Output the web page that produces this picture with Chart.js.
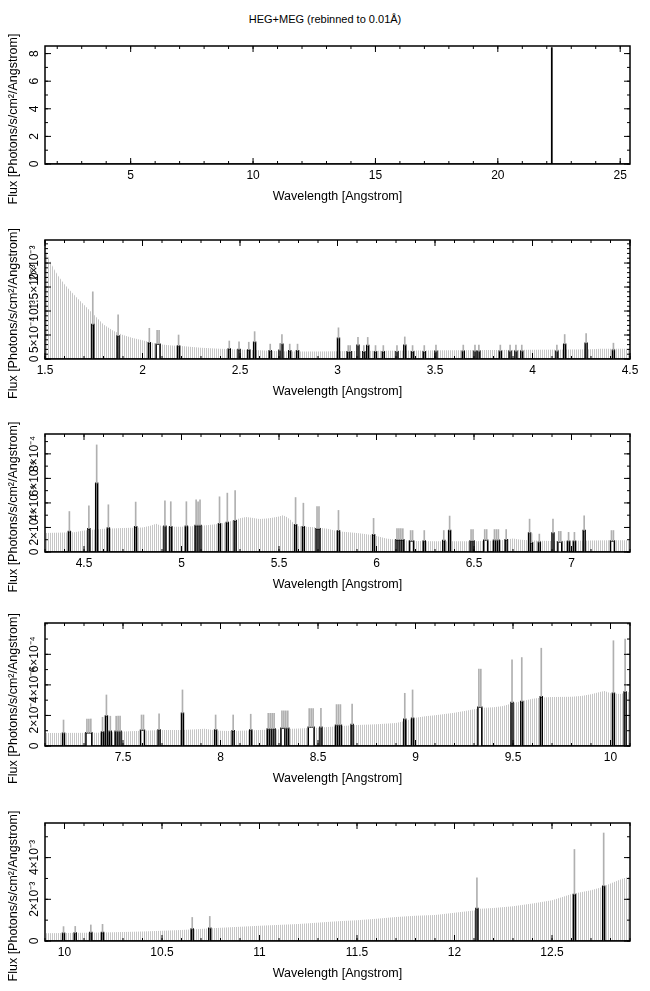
<!DOCTYPE html>
<html>
<head>
<meta charset="utf-8">
<script src="https://cdn.jsdelivr.net/npm/chart.js@4.4.1/dist/chart.umd.min.js"></script>
<style>
  body { margin: 0; background: #fff; }
  #page { position: relative; width: 650px; height: 991px; overflow: hidden; background: #fff; }
  #title { position: absolute; left: 0; top: 11px; width: 650px; text-align: center;
           font: 11px "Liberation Sans", Arial, sans-serif; line-height: 16px; color: #000; }
  canvas { position: absolute; left: 0; }
</style>
</head>
<body>
<div id="page">
  <div id="title">HEG+MEG (rebinned to 0.01Å)</div>
  <canvas id="c1"></canvas>
  <canvas id="c2"></canvas>
  <canvas id="c3"></canvas>
  <canvas id="c4"></canvas>
  <canvas id="c5"></canvas>
</div>
<script>
var binWidth = 0.01;   // Angstrom

// ---- panel 1: whole band, flux in Photons/s/cm2/A
var p1Range = [1.5, 25.4];
var p1YMax = 8.55;
var p1LineWave = [22.20];
var p1LineBins = [1];
var p1LineFlux = [8.4];
var p1XTicks = [5, 10, 15, 20, 25];
var p1XLabels = ['5', '10', '15', '20', '25'];
var p1YTicks = [0, 2, 4, 6, 8];
var p1YLabels = ['0', '2', '4', '6', '8'];

// ---- panel 2: 1.5-4.5 A, flux in units of 1e-4
var p2Range = [1.5, 4.5];
var p2YMax = 24.8;
var p2EnvWave = [1.50, 1.51, 1.52, 1.53, 1.55, 1.57, 1.60, 1.63, 1.66, 1.70, 1.75, 1.80, 1.85, 1.90, 1.95, 2.00, 2.05, 2.10, 2.15, 2.20, 2.30, 2.40, 2.50, 2.60, 2.70, 2.80, 2.90, 3.00, 3.20, 3.40, 3.60, 3.80, 4.00, 4.20, 4.30, 4.35, 4.50];
var p2EnvFlux = [23.0, 22.0, 21.0, 20.0, 18.5, 17.2, 15.6, 14.2, 12.9, 11.3, 9.3, 7.2, 5.9, 5.0, 4.4, 3.9, 3.4, 3.0, 2.8, 2.7, 2.35, 2.15, 2.0, 1.8, 1.6, 1.55, 1.55, 1.6, 1.7, 1.75, 1.8, 1.9, 1.95, 2.0, 2.05, 2.15, 2.15];
var p2LineWave = [1.74, 1.87, 2.03, 2.07, 2.18, 2.44, 2.49, 2.54, 2.57, 2.65, 2.70, 2.71, 2.75, 2.79, 3.00, 3.05, 3.06, 3.10, 3.13, 3.15, 3.19, 3.23, 3.30, 3.34, 3.38, 3.44, 3.50, 3.64, 3.70, 3.72, 3.83, 3.88, 3.91, 3.94, 4.12, 4.16, 4.27, 4.41];
var p2LineBins = [1, 1, 1, 2, 1, 1, 1, 1, 1, 1, 1, 1, 1, 1, 1, 1, 1, 1, 1, 1, 1, 1, 1, 1, 1, 1, 1, 1, 1, 1, 1, 1, 1, 1, 1, 1, 1, 1];
var p2LineFlux = [7.2, 4.8, 3.4, 3.1, 2.7, 2.1, 2.0, 1.9, 3.5, 1.7, 1.8, 3.1, 1.7, 1.7, 4.3, 1.5, 1.5, 2.85, 1.5, 2.8, 1.5, 1.5, 1.5, 2.85, 1.5, 1.5, 1.6, 1.6, 1.6, 1.6, 1.6, 1.6, 1.6, 1.6, 1.6, 3.1, 3.3, 1.8];
var p2LineErr = [14.0, 9.2, 6.4, 6.0, 5.0, 3.75, 3.6, 3.5, 5.7, 3.1, 3.2, 5.1, 3.1, 3.1, 6.5, 2.8, 2.8, 4.5, 2.8, 4.5, 2.8, 2.8, 2.8, 4.6, 2.8, 2.8, 2.9, 2.9, 2.9, 2.9, 2.9, 2.9, 2.9, 2.9, 2.9, 5.1, 5.3, 3.3];
var p2XTicks = [1.5, 2, 2.5, 3, 3.5, 4, 4.5];
var p2XLabels = ['1.5', '2', '2.5', '3', '3.5', '4', '4.5'];
var p2YTicks = [0, 5, 10, 15, 20];
var p2YLabels = ['0', '5×10⁻⁴', '10⁻³', '1.5×10⁻³', '2×10⁻³'];

// ---- panel 3: 4.3-7.3 A, flux in units of 1e-4
var p3Range = [4.3, 7.3];
var p3YMax = 9.62;
var p3EnvWave = [4.30, 4.45, 4.50, 4.60, 4.70, 4.80, 4.84, 4.87, 4.90, 4.95, 5.00, 5.10, 5.20, 5.25, 5.30, 5.33, 5.36, 5.40, 5.45, 5.50, 5.52, 5.54, 5.56, 5.58, 5.60, 5.70, 5.75, 5.80, 5.90, 5.95, 6.00, 6.05, 6.10, 6.20, 6.30, 6.50, 6.60, 6.66, 6.70, 6.74, 6.80, 6.90, 7.00, 7.20, 7.30];
var p3EnvFlux = [1.55, 1.6, 1.75, 1.9, 1.95, 2.0, 2.15, 2.3, 2.1, 2.05, 2.05, 2.15, 2.3, 2.5, 2.75, 2.85, 2.8, 2.7, 2.75, 2.9, 3.0, 2.85, 2.6, 2.25, 2.1, 2.0, 1.9, 1.7, 1.55, 1.45, 1.3, 1.1, 1.0, 0.9, 0.87, 0.88, 0.92, 1.0, 1.1, 1.0, 0.93, 0.9, 0.92, 0.95, 0.95];
var p3LineWave = [4.42, 4.52, 4.56, 4.62, 4.76, 4.91, 4.94, 5.02, 5.07, 5.08, 5.09, 5.19, 5.23, 5.27, 5.58, 5.62, 5.69, 5.70, 5.80, 5.98, 6.10, 6.11, 6.12, 6.13, 6.17, 6.24, 6.34, 6.37, 6.48, 6.49, 6.55, 6.60, 6.61, 6.62, 6.66, 6.78, 6.79, 6.83, 6.90, 6.93, 6.98, 7.01, 7.06, 7.20];
var p3LineBins = [1, 1, 1, 1, 1, 1, 1, 1, 1, 1, 1, 1, 1, 1, 1, 1, 1, 1, 1, 1, 1, 1, 1, 1, 2, 1, 1, 1, 1, 1, 2, 1, 1, 1, 1, 1, 1, 1, 1, 2, 1, 1, 1, 2];
var p3LineFlux = [1.68, 1.9, 5.6, 1.95, 2.06, 2.09, 2.06, 2.09, 2.17, 2.17, 2.17, 2.3, 2.41, 2.55, 2.22, 2.06, 1.9, 1.9, 1.73, 1.41, 1.0, 1.0, 1.0, 1.0, 0.9, 0.9, 0.93, 1.76, 0.9, 0.9, 0.95, 0.95, 0.95, 0.95, 1.0, 1.54, 0.76, 0.79, 1.54, 0.81, 0.87, 0.87, 1.76, 0.9];
var p3LineErr = [3.3, 3.77, 8.73, 3.85, 4.07, 4.17, 4.1, 4.1, 4.25, 4.1, 4.25, 4.5, 4.8, 5.0, 4.44, 3.98, 3.7, 3.7, 3.39, 2.74, 1.9, 1.9, 1.9, 1.9, 1.75, 1.75, 1.75, 2.93, 1.83, 1.83, 1.83, 1.83, 1.83, 1.83, 1.83, 2.68, 1.5, 1.46, 2.68, 1.68, 1.6, 1.6, 2.95, 1.75];
var p3XTicks = [4.5, 5, 5.5, 6, 6.5, 7];
var p3XLabels = ['4.5', '5', '5.5', '6', '6.5', '7'];
var p3YTicks = [0, 2, 4, 6, 8];
var p3YLabels = ['0', '2×10⁻⁴', '4×10⁻⁴', '6×10⁻⁴', '8×10⁻⁴'];

// ---- panel 4: 7.1-10.1 A, flux in units of 1e-4
var p4Range = [7.1, 10.1];
var p4YMax = 8.05;
var p4EnvWave = [7.10, 7.40, 7.50, 7.60, 7.70, 7.80, 7.88, 7.92, 7.96, 8.00, 8.05, 8.10, 8.20, 8.30, 8.40, 8.50, 8.60, 8.70, 8.80, 8.90, 8.95, 9.00, 9.05, 9.10, 9.20, 9.30, 9.35, 9.40, 9.45, 9.50, 9.55, 9.60, 9.65, 9.70, 9.80, 9.85, 9.90, 9.95, 9.97, 10.00, 10.05, 10.10];
var p4EnvFlux = [0.85, 0.87, 0.95, 1.0, 1.05, 1.05, 1.1, 1.13, 1.05, 1.0, 0.98, 1.0, 1.05, 1.1, 1.15, 1.2, 1.3, 1.37, 1.42, 1.5, 1.65, 1.85, 1.95, 2.02, 2.18, 2.4, 2.5, 2.53, 2.62, 2.82, 2.95, 3.1, 3.18, 3.2, 3.22, 3.28, 3.38, 3.55, 3.6, 3.45, 3.4, 3.55];
var p4LineWave = [7.19, 7.31, 7.39, 7.41, 7.43, 7.46, 7.47, 7.48, 7.59, 7.68, 7.80, 7.97, 8.06, 8.15, 8.24, 8.25, 8.26, 8.27, 8.31, 8.33, 8.34, 8.45, 8.51, 8.59, 8.60, 8.61, 8.67, 8.94, 8.98, 9.32, 9.49, 9.54, 9.64, 10.01, 10.07];
var p4LineBins = [1, 3, 1, 1, 1, 1, 1, 1, 2, 1, 1, 1, 1, 1, 1, 1, 1, 1, 2, 1, 1, 3, 1, 1, 1, 1, 1, 1, 1, 2, 1, 1, 1, 1, 1];
var p4LineFlux = [0.83, 0.87, 0.92, 1.97, 0.96, 0.96, 0.96, 0.96, 1.03, 1.05, 2.14, 1.05, 1.0, 1.05, 1.11, 1.11, 1.11, 1.11, 1.16, 1.16, 1.16, 1.22, 1.22, 1.36, 1.36, 1.36, 1.4, 1.75, 1.81, 2.54, 2.84, 2.91, 3.23, 3.45, 3.54];
var p4LineErr = [1.7, 1.77, 1.88, 3.34, 1.95, 1.95, 1.95, 1.95, 2.03, 2.1, 3.67, 2.03, 2.03, 2.08, 2.14, 2.14, 2.14, 2.14, 2.3, 2.3, 2.3, 2.45, 2.47, 2.71, 2.71, 2.71, 2.75, 3.45, 3.67, 5.03, 5.64, 5.79, 6.4, 6.89, 7.0];
var p4XTicks = [7.5, 8, 8.5, 9, 9.5, 10];
var p4XLabels = ['7.5', '8', '8.5', '9', '9.5', '10'];
var p4YTicks = [0, 2, 4, 6];
var p4YLabels = ['0', '2×10⁻⁴', '4×10⁻⁴', '6×10⁻⁴'];

// ---- panel 5: 9.9-12.9 A, flux in units of 1e-3
var p5Range = [9.9, 12.9];
var p5YMax = 5.66;
var p5EnvWave = [9.90, 10.00, 10.20, 10.40, 10.60, 10.80, 11.00, 11.20, 11.40, 11.50, 11.60, 11.70, 11.80, 11.90, 12.00, 12.11, 12.13, 12.20, 12.30, 12.40, 12.50, 12.55, 12.60, 12.70, 12.75, 12.80, 12.85, 12.88, 12.90];
var p5EnvFlux = [0.37, 0.38, 0.41, 0.45, 0.53, 0.63, 0.73, 0.81, 0.95, 1.0, 1.07, 1.15, 1.21, 1.25, 1.36, 1.47, 1.55, 1.58, 1.67, 1.8, 1.96, 2.1, 2.25, 2.44, 2.57, 2.76, 2.95, 3.05, 3.08];
var p5LineWave = [9.99, 10.05, 10.13, 10.19, 10.65, 10.74, 12.11, 12.61, 12.76];
var p5LineBins = [1, 1, 1, 1, 1, 1, 1, 1, 1];
var p5LineFlux = [0.37, 0.38, 0.41, 0.41, 0.57, 0.61, 1.56, 2.23, 2.63];
var p5LineErr = [0.69, 0.70, 0.77, 0.80, 1.13, 1.18, 3.03, 4.39, 5.18];
var p5XTicks = [10, 10.5, 11, 11.5, 12, 12.5];
var p5XLabels = ['10', '10.5', '11', '11.5', '12', '12.5'];
var p5YTicks = [0, 2, 4];
var p5YLabels = ['0', '2×10⁻³', '4×10⁻³'];

var FONT = '"Liberation Sans", Arial, Helvetica, sans-serif';

function minorValues(lo, hi, step) {
  var out = [];
  for (var k = Math.ceil(lo / step - 1e-6); k * step <= hi + 1e-9; k++) {
    out.push(Math.round(k * step * 1000) / 1000);
  }
  return out;
}

function edge(w, n) {
  return Math.round((w + n * binWidth) * 1000) / 1000;
}

// histogram outline: a box per entry, each point is a low edge held until the next point
function histogram(range, waves, bins, flux) {
  var pts = [{x: range[0], y: 0}];
  waves.forEach(function(w, i) {
    pts.push({x: w, y: flux[i]});
    pts.push({x: edge(w, bins[i]), y: 0});
  });
  pts.push({x: range[1], y: 0});
  return pts;
}

// one grey error line per bin, from the flux up to the upper error
function errorBars(waves, bins, flux, err) {
  var out = [];
  waves.forEach(function(w, i) {
    for (var k = 0; k < bins[i]; k++) {
      out.push({x: edge(w, k + 0.5), y: [flux[i], err[i]]});
    }
  });
  return out;
}

function framePlugin(cfg) {
  return {
    id: 'frame',
    afterDraw: function(chart) {
      var ctx = chart.ctx, a = chart.chartArea;
      var x = chart.scales.x, y = chart.scales.y;
      ctx.save();
      ctx.strokeStyle = '#000';
      ctx.lineWidth = 1;
      ctx.beginPath();
      function xt(v, len) {
        var px = x.getPixelForValue(v);
        ctx.moveTo(px, a.bottom); ctx.lineTo(px, a.bottom - len);
        ctx.moveTo(px, a.top); ctx.lineTo(px, a.top + len);
      }
      function yt(v, len) {
        var py = y.getPixelForValue(v);
        ctx.moveTo(a.left, py); ctx.lineTo(a.left + len, py);
        ctx.moveTo(a.right, py); ctx.lineTo(a.right - len, py);
      }
      minorValues(cfg.range[0], cfg.range[1], cfg.xMinor).forEach(function(v) { xt(v, 3); });
      cfg.xTicks.forEach(function(v) { xt(v, 6); });
      minorValues(0, cfg.yMax, cfg.yMinor).forEach(function(v) { yt(v, 3); });
      cfg.yTicks.forEach(function(v) { yt(v, 6); });
      ctx.stroke();

      ctx.lineWidth = 1.5;
      ctx.strokeRect(a.left, a.top, a.right - a.left, a.bottom - a.top);

      ctx.fillStyle = '#000';
      ctx.font = '12px ' + FONT;
      ctx.textAlign = 'center';
      ctx.textBaseline = 'middle';
      cfg.yTicks.forEach(function(v, i) {
        ctx.save();
        ctx.translate(35, y.getPixelForValue(v));
        ctx.rotate(-Math.PI / 2);
        ctx.fillText(cfg.yLabels[i], 0, 0);
        ctx.restore();
      });
      ctx.font = '12.5px ' + FONT;
      ctx.translate(14, (a.top + a.bottom) / 2 + 14);
      ctx.rotate(-Math.PI / 2);
      ctx.fillText('Flux [Photons/s/cm²/Angstrom]', 0, 0);
      ctx.restore();
    }
  };
}

function makePanel(id, cfg) {
  var canvas = document.getElementById(id);
  var h = cfg.box[1] - cfg.box[0];
  canvas.width = 650;
  canvas.height = h + 80;
  canvas.style.top = (cfg.box[0] - 30) + 'px';
  var ctx = canvas.getContext('2d');

  // light grey vertical stripes, one per 0.01 A bin
  var tile = document.createElement('canvas');
  tile.width = 2; tile.height = 1;
  var tctx = tile.getContext('2d');
  tctx.fillStyle = '#c6c6c6';
  tctx.fillRect(0, 0, 1, 1);
  var stripes = ctx.createPattern(tile, 'repeat');

  var datasets = [];
  if (cfg.envWave) {
    datasets.push({
      type: 'line',
      data: cfg.envWave.map(function(w, i) { return {x: w, y: cfg.envFlux[i]}; }),
      fill: 'origin',
      backgroundColor: stripes,
      borderColor: 'rgba(0,0,0,0)',
      borderWidth: 0,
      pointRadius: 0,
      tension: 0,
      order: 3
    });
  }
  datasets.push({
    type: 'line',
    data: histogram(cfg.range, cfg.lineWave, cfg.lineBins, cfg.lineFlux),
    stepped: true,
    fill: 'origin',
    backgroundColor: '#fff',
    borderColor: '#000',
    borderWidth: 1.5,
    pointRadius: 0,
    order: 2
  });
  if (cfg.lineErr) {
    datasets.push({
      type: 'bar',
      data: errorBars(cfg.lineWave, cfg.lineBins, cfg.lineFlux, cfg.lineErr),
      backgroundColor: '#b0b0b0',
      barThickness: 1,
      grouped: false,
      order: 1
    });
  }

  return new Chart(ctx, {
    type: 'line',
    data: {datasets: datasets},
    options: {
      responsive: false,
      animation: false,
      events: [],
      layout: {padding: {top: 30, right: 20, left: 0, bottom: 10}},
      plugins: {legend: {display: false}, tooltip: {enabled: false}},
      scales: {
        x: {
          type: 'linear',
          min: cfg.range[0],
          max: cfg.range[1],
          offset: false,
          grid: {display: false, drawTicks: false, offset: false},
          border: {display: false},
          ticks: {
            color: '#000',
            font: {family: FONT, size: 12},
            padding: 4,
            maxRotation: 0,
            autoSkip: false,
            callback: function(v, i) { return cfg.xLabels[i]; }
          },
          afterBuildTicks: function(s) {
            s.ticks = cfg.xTicks.map(function(v) { return {value: v}; });
          },
          title: {
            display: true,
            text: 'Wavelength [Angstrom]',
            color: '#000',
            font: {family: FONT, size: 12.5},
            padding: {top: 0, bottom: 0}
          },
          afterFit: function(s) { s.height = 40; }
        },
        y: {
          type: 'linear',
          min: 0,
          max: cfg.yMax,
          grid: {display: false, drawTicks: false},
          border: {display: false},
          ticks: {display: false},
          afterFit: function(s) { s.width = 45; }
        }
      }
    },
    plugins: [framePlugin(cfg)]
  });
}

makePanel('c1', {box: [46, 164], range: p1Range, yMax: p1YMax,
  lineWave: p1LineWave, lineBins: p1LineBins, lineFlux: p1LineFlux,
  xTicks: p1XTicks, xLabels: p1XLabels, xMinor: 1, yTicks: p1YTicks, yLabels: p1YLabels, yMinor: 1});
makePanel('c2', {box: [240, 359], range: p2Range, yMax: p2YMax, envWave: p2EnvWave, envFlux: p2EnvFlux,
  lineWave: p2LineWave, lineBins: p2LineBins, lineFlux: p2LineFlux, lineErr: p2LineErr,
  xTicks: p2XTicks, xLabels: p2XLabels, xMinor: 0.1, yTicks: p2YTicks, yLabels: p2YLabels, yMinor: 1});
makePanel('c3', {box: [434, 552], range: p3Range, yMax: p3YMax, envWave: p3EnvWave, envFlux: p3EnvFlux,
  lineWave: p3LineWave, lineBins: p3LineBins, lineFlux: p3LineFlux, lineErr: p3LineErr,
  xTicks: p3XTicks, xLabels: p3XLabels, xMinor: 0.1, yTicks: p3YTicks, yLabels: p3YLabels, yMinor: 1});
makePanel('c4', {box: [623, 746], range: p4Range, yMax: p4YMax, envWave: p4EnvWave, envFlux: p4EnvFlux,
  lineWave: p4LineWave, lineBins: p4LineBins, lineFlux: p4LineFlux, lineErr: p4LineErr,
  xTicks: p4XTicks, xLabels: p4XLabels, xMinor: 0.1, yTicks: p4YTicks, yLabels: p4YLabels, yMinor: 1});
makePanel('c5', {box: [823, 941], range: p5Range, yMax: p5YMax, envWave: p5EnvWave, envFlux: p5EnvFlux,
  lineWave: p5LineWave, lineBins: p5LineBins, lineFlux: p5LineFlux, lineErr: p5LineErr,
  xTicks: p5XTicks, xLabels: p5XLabels, xMinor: 0.1, yTicks: p5YTicks, yLabels: p5YLabels, yMinor: 1});
</script>
</body>
</html>
